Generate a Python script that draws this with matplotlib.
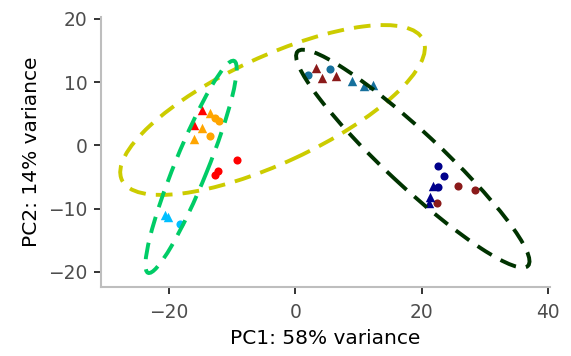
import matplotlib
matplotlib.use("Agg")
import matplotlib.pyplot as plt
from matplotlib.patches import Ellipse

plt.rcParams['font.family'] = ['DejaVu Sans']

# PCA scores, grouped by colour and shape
groups = ["red", "orange", "lightblue", "teal", "darkred", "navy"]
group_colors = ["#FF0000", "#FFA500", "#00BFFF", "#16709C", "#8B1A1A", "#00008B"]

circle_x = {
    "red": [-9.3, -12.7, -12.3],
    "orange": [-12.7, -12.1, -13.5],
    "lightblue": [-18.3],
    "teal": [2.0, 5.5],
    "darkred": [22.4, 25.8, 28.4],
    "navy": [22.6, 23.5, 22.6],
}
circle_y = {
    "red": [-2.3, -4.7, -4.1],
    "orange": [4.3, 3.8, 1.5],
    "lightblue": [-12.4],
    "teal": [11.1, 12.1],
    "darkred": [-9.1, -6.4, -7.0],
    "navy": [-3.3, -4.8, -6.6],
}
tri_x = {
    "red": [-14.8, -16.1],
    "orange": [-13.5, -14.8, -16.0],
    "lightblue": [-20.6, -20.1],
    "teal": [8.9, 10.9, 12.3],
    "darkred": [3.2, 4.2, 6.4],
    "navy": [21.8, 21.3, 21.2],
}
tri_y = {
    "red": [5.6, 3.2],
    "orange": [5.1, 2.7, 1.0],
    "lightblue": [-11.0, -11.3],
    "teal": [10.2, 9.4, 9.6],
    "darkred": [12.2, 10.6, 11.0],
    "navy": [-6.5, -8.1, -9.1],
}

# confidence ellipses: centre, full width, full height, angle
ell_colors = ["#CCCC00", "#00CC66", "#003300"]
ell_cx = [-3.6, -16.5, 18.6]
ell_cy = [5.6, -3.4, -2.1]
ell_w = [52.6, 36.2, 49.8]
ell_h = [16.8, 5.2, 8.6]
ell_angle = [24.9, 67.9, -42.9]

fig = plt.figure(figsize=(5.71, 3.56), dpi=100)
ax = fig.add_axes([0.177, 0.194, 0.786, 0.758])

for g, c in zip(groups, group_colors):
    ax.scatter(circle_x[g], circle_y[g], s=34, marker="o", color=c, linewidths=0, zorder=2)
    ax.scatter(tri_x[g], tri_y[g], s=46, marker="^", color=c, linewidths=0, zorder=2)

for i in range(len(ell_colors)):
    e = Ellipse((ell_cx[i], ell_cy[i]), ell_w[i], ell_h[i], angle=ell_angle[i],
                fill=False, edgecolor=ell_colors[i], lw=2.8,
                linestyle=(0, (4.3, 2.6)), zorder=3)
    ax.add_patch(e)

ax.set_xlim(-30.75, 40.3)
ax.set_ylim(-22.4, 20.3)
ax.set_xticks([-20, 0, 20, 40])
ax.set_yticks([-20, -10, 0, 10, 20])

for s in ["top", "right"]:
    ax.spines[s].set_visible(False)
for s in ["left", "bottom"]:
    ax.spines[s].set_color("#BEBEBE")
    ax.spines[s].set_linewidth(1.5)

ax.tick_params(length=4.7, width=1.4, color="#333333", labelcolor="#4D4D4D",
               labelsize=13.4, pad=5)
ax.tick_params(axis="x", pad=7)

ax.set_xlabel("PC1: 58% variance", fontsize=14.5, color="black", labelpad=5)
ax.set_ylabel("PC2: 14% variance", fontsize=14.5, color="black", labelpad=5)

fig.savefig("out.png", dpi=100)
